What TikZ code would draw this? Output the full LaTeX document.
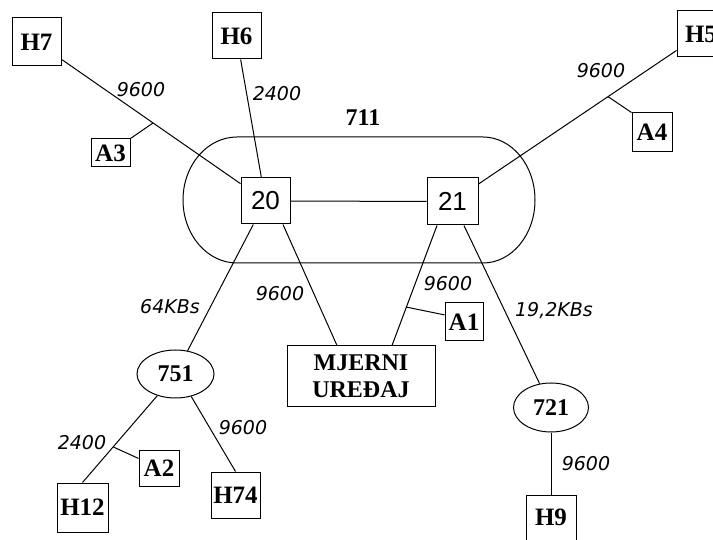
\documentclass[tikz,border=0pt]{standalone}
\usepackage{fontspec}
\setmainfont{Liberation Serif}
\newfontfamily\numfont{Liberation Sans}
\newfontfamily\labfont{DejaVu Sans}
\usetikzlibrary{shapes.geometric,calc}
\begin{document}
\begin{tikzpicture}[x=1pt,y=1pt,
  box/.style={draw,line width=1pt,inner sep=0pt,font=\fontsize{25}{28}\selectfont\bfseries},
  numbox/.style={draw,line width=1pt,inner sep=0pt,font=\numfont\fontsize{26}{28}\selectfont},
  oval/.style={draw,ellipse,line width=1pt,inner sep=0pt,font=\fontsize{24}{28}\selectfont\bfseries},
  lab/.style={font=\labfont\itshape\fontsize{19}{22}\selectfont,inner sep=0pt},
  link/.style={line width=1pt}]
\useasboundingbox (0,0) rectangle (713,539);
% ring 711
\draw[link] (237,402) -- (483,402)
  arc[start angle=90,end angle=-90,x radius=52,y radius=63] -- (237,276)
  arc[start angle=270,end angle=90,x radius=54,y radius=63] -- cycle;
\node[font=\fontsize{24}{28}\selectfont\bfseries] (l711) at (363,421) {711};
% nodes
\node[box,minimum width=49,minimum height=48] (H7) at (36.5,497) {H7};
\node[box,minimum width=49,minimum height=46] (H6) at (236.5,503) {H6};
\node[box,minimum width=48,minimum height=46] (H5) at (701,505) {H5};
\node[box,minimum width=39,minimum height=28] (A3) at (110.5,386) {A3};
\node[box,minimum width=40,minimum height=39] (A4) at (652,406.5) {A4};
\node[numbox,minimum width=49,minimum height=46] (n20) at (265.5,338) {20};
\node[numbox,minimum width=51,minimum height=47] (n21) at (452.5,337.5) {21};
\node[oval,minimum width=77,minimum height=48] (n751) at (175.5,165) {751};
\node[oval,minimum width=75,minimum height=49] (n721) at (551,131.5) {721};
\node[box,minimum width=51,minimum height=49] (H12) at (82.5,31.5) {H12};
\node[box,minimum width=40,minimum height=36] (A2) at (159,71) {A2};
\node[box,minimum width=49,minimum height=46] (H74) at (235.5,44) {H74};
\node[box,minimum width=50,minimum height=45] (H9) at (551,21.5) {H9};
\node[box,minimum width=148,minimum height=61,align=center,font=\fontsize{24}{27}\selectfont\bfseries] (mj) at (361,162.5) {MJERNI\\UREĐAJ};
\node[box,minimum width=38,minimum height=38] (A1) at (464,217) {A1};
% connectors
\draw[link] (H7) -- (n20);
\coordinate (b3) at ($(H7)!0.509!(n20)$);
\draw[link] (b3) -- (A3.north east);
\draw[link] (H6) -- (n20);
\draw[link] (n20) -- (n21);
\draw[link] (n21) -- (H5);
\coordinate (b4) at ($(n21)!0.626!(H5)$);
\draw[link] (b4) -- (A4.north west);
\draw[link] (n20) -- (n751);
\draw[link] ($(n20.south)+(17.5pt,0pt)$) -- ($(mj.north)+(-24pt,0pt)$);
\coordinate (s21) at ($(n21.south)+(-15.5pt,0pt)$);
\coordinate (e21) at ($(mj.north)+(31pt,0pt)$);
\draw[link] (s21) -- (e21);
\coordinate (b1) at ($(s21)!0.68!(e21)$);
\draw[link] (b1) -- (A1.160);
\draw[link] (n21) -- (n721);
\draw[link] (n721.south) -- (H9.north);
\draw[link] (n751.230) -- (H12.north);
\coordinate (b2) at ($(n751.230)!0.59!(H12.north)$);
\draw[link] (b2) -- (A2.155);
\draw[link] (n751.-55) -- (H74.north);
% labels
\node[lab] (t1) at (141,449) {9600};
\node[lab] (t2) at (277,445) {2400};
\node[lab] (t3) at (601,468) {9600};
\node[lab] (t4) at (170,232) {64KBs};
\node[lab] (t5) at (280,245) {9600};
\node[lab] (t6) at (448,255) {9600};
\node[lab] (t7) at (554,228) {19,2KBs};
\node[lab] (t8) at (82,96) {2400};
\node[lab] (t9) at (243,111) {9600};
\node[lab] (t10) at (586,75) {9600};
\end{tikzpicture}
\end{document}
